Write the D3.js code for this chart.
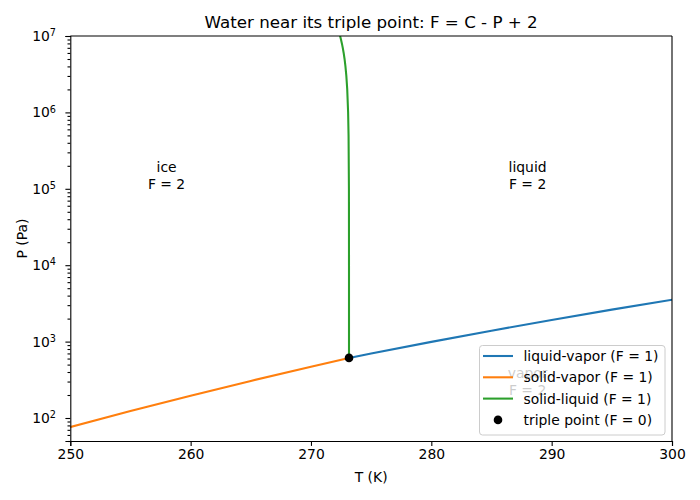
<!DOCTYPE html>
<html><head><meta charset="utf-8">
<script src="https://cdn.jsdelivr.net/npm/d3@7"></script>
<style>
body{margin:0;background:#fff;}
svg text{font-family:"DejaVu Sans",sans-serif;fill:#000;}
</style></head>
<body><svg id="c" width="700" height="500"></svg>
<script>
// Liquid-vapor boundary
const lvT = [273.16, 275, 280, 285, 290, 295, 300];
const lvP = [611.7, 698, 992, 1389, 1920, 2621, 3537];
// Solid-vapor boundary
const svT = [250, 255, 260, 265, 270, 273.16];
const svP = [76.0, 123.5, 195.8, 306.0, 470.1, 611.7];
// Solid-liquid boundary
const slT = [273.16, 273.159, 273.153, 273.123, 273.086, 273.012, 272.938, 272.864, 272.790, 272.716, 272.642, 272.567, 272.493, 272.419];
const slP = [611.7, 1e4, 1e5, 5e5, 1e6, 2e6, 3e6, 4e6, 5e6, 6e6, 7e6, 8e6, 9e6, 1e7];
// Triple point
const tpT = [273.16];
const tpP = [611.7];
const xTicks = [250, 260, 270, 280, 290, 300];
const yExps = [2, 3, 4, 5, 6, 7];
const regionNames = ["ice", "liquid", "vapor"];
const regionT = [258, 288, 288];
const regionP = [1e5, 1e5, 200];
const legendLabels = ["liquid-vapor (F = 1)", "solid-vapor (F = 1)", "solid-liquid (F = 1)", "triple point (F = 0)"];
const colors = ["#1f77b4", "#ff7f0e", "#2ca02c", "#000000"];

const svg = d3.select("#c");
const L = 70.3, R = 672, T = 36, B = 441;
const x = d3.scaleLinear().domain([250, 300]).range([L, R]);
const y = d3.scaleLog().domain([50, 1e7]).range([B, T]);

svg.append("clipPath").attr("id", "clp").append("rect")
  .attr("x", L).attr("y", T).attr("width", R - L).attr("height", B - T);

const line = d3.line().x(d => x(d[0])).y(d => y(d[1]));
const series = [[lvT, lvP], [svT, svP], [slT, slP]];
const plot = svg.append("g").attr("clip-path", "url(#clp)");
series.forEach((s, i) => {
  plot.append("path").datum(s[0].map((t, j) => [t, s[1][j]]))
    .attr("d", line).attr("fill", "none").attr("stroke", colors[i]).attr("stroke-width", 2.08)
    .attr("stroke-linecap", "square");
});
svg.append("g").selectAll("circle").data(tpT).join("circle")
  .attr("cx", d => x(d)).attr("cy", (d, i) => y(tpP[i])).attr("r", 4.3).attr("fill", "#000");

// region labels
regionNames.forEach((n, i) => {
  const tx = svg.append("text").attr("x", x(regionT[i])).attr("y", y(regionP[i]))
    .attr("text-anchor", "middle").style("font-size", "13.9px");
  tx.append("tspan").attr("x", x(regionT[i])).attr("dy", "-1.2em").text(n);
  tx.append("tspan").attr("x", x(regionT[i])).attr("dy", "1.2em").text("F = 2");
});

// axes
const xAxis = d3.axisBottom(x).tickValues(xTicks).tickSize(4.9).tickPadding(3.5).tickFormat(d3.format("d"));
const gx = svg.append("g").attr("transform", `translate(0,${B})`).call(xAxis);
gx.selectAll("text").style("font-size", "13.9px").attr("font-family", "DejaVu Sans");
const minor = [];
for (let e = 1; e <= 7; e++) for (let m = 2; m <= 9; m++) { const v = m * Math.pow(10, e); if (v >= 50 && v <= 1e7) minor.push(v); }
const yAxis = d3.axisLeft(y).tickValues(yExps.map(e => Math.pow(10, e))).tickSize(4.9).tickPadding(3.5).tickFormat("");
const gy = svg.append("g").attr("transform", `translate(${L},0)`).call(yAxis);
svg.append("g").attr("transform", `translate(${L},0)`)
  .call(d3.axisLeft(y).tickValues(minor).tickSize(2.8).tickFormat(""))
  .call(a => a.select(".domain").remove());
[gx, gy].forEach(a => { a.select(".domain").attr("stroke-width", 1.1); });
svg.selectAll(".tick line").attr("stroke", "#000").attr("stroke-width", 1.1);
yExps.forEach(e => {
  const t = svg.append("text").attr("x", 56).attr("y", y(Math.pow(10, e)) + 5).attr("text-anchor", "end").style("font-size", "13.9px");
  t.append("tspan").text("10");
  t.append("tspan").attr("dy", "-0.5em").style("font-size", "9.7px").text(e);
});
// frame
svg.append("line").attr("x1", L).attr("x2", R).attr("y1", T).attr("y2", T).attr("stroke", "#000").attr("stroke-width", 1.1);
svg.append("line").attr("x1", R).attr("x2", R).attr("y1", T).attr("y2", B).attr("stroke", "#000").attr("stroke-width", 1.1);

// labels
svg.append("text").attr("x", (L + R) / 2).attr("y", 28).attr("text-anchor", "middle").style("font-size", "16.7px")
  .text("Water near its triple point: F = C - P + 2");
svg.append("text").attr("x", (L + R) / 2).attr("y", 482).attr("text-anchor", "middle").style("font-size", "13.9px").text("T (K)");
svg.append("text").attr("transform", `translate(27,${(T + B) / 2}) rotate(-90)`).attr("text-anchor", "middle").style("font-size", "13.9px").text("P (Pa)");

// legend
const lg = svg.append("g");
lg.append("rect").attr("x", 479.5).attr("y", 345.5).attr("width", 185.5).attr("height", 89.5).attr("rx", 3)
  .attr("fill", "#fff").attr("fill-opacity", 0.8).attr("stroke", "#cccccc").attr("stroke-width", 1);
legendLabels.forEach((lab, i) => {
  const yy = 356 + i * 21.3;
  if (i < 3) lg.append("line").attr("x1", 483).attr("x2", 513).attr("y1", yy).attr("y2", yy).attr("stroke", colors[i]).attr("stroke-width", 2.08);
  else lg.append("circle").attr("cx", 498).attr("cy", yy).attr("r", 4.3).attr("fill", colors[i]);
  lg.append("text").attr("x", 523.5).attr("y", yy + 5).style("font-size", "13.9px").text(lab);
});
</script></body></html>
